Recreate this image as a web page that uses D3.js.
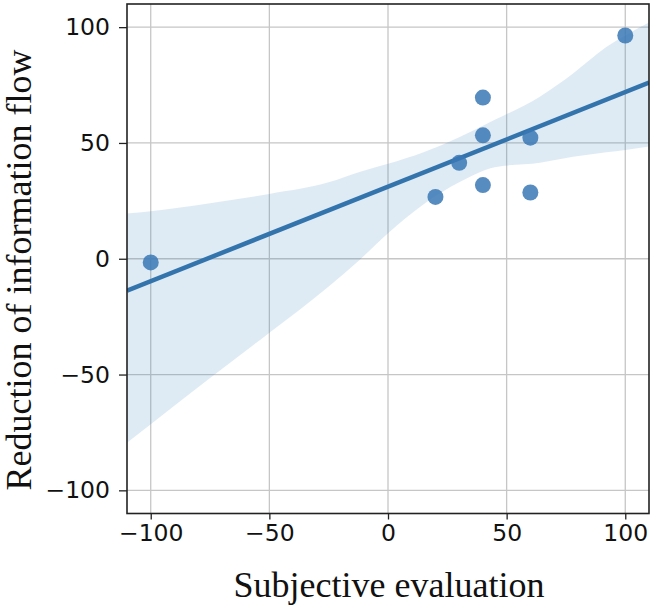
<!DOCTYPE html>
<html>
<head>
<meta charset="utf-8">
<script src="https://cdn.jsdelivr.net/npm/d3@7"></script>
<style>
  html, body { margin: 0; padding: 0; background: #fff; }
  svg { display: block; }
</style>
</head>
<body>
<svg id="chart" width="653" height="616"></svg>
<script>
// ---- data ----
const pointX = [-100, 20, 30, 40, 40, 40, 60, 60, 100];
const pointY = [-1.6, 26.7, 41.4, 69.6, 53.3, 31.8, 52.3, 28.6, 96.4];

// confidence band edges
const bandX     = [-110, -100, -75, -50, -25, -12, 0, 15, 30, 45, 64, 78, 92, 100, 110];
const bandUpper = [19.5, 20.5, 24, 28, 33, 37.5, 41, 46, 52.5, 60, 70, 80, 91.4, 96.4, 102];
const bandLower = [-79.5, -71.5, -51.5, -32, -12, -0.5, 11, 23.5, 33, 39.5, 41.5, 44, 46, 47, 48.5];

const tickValues = [-100, -50, 0, 50, 100];
const xDomain = [-110, 110];
const yDomain = [-110, 110];
const xTitle = "Subjective evaluation";
const yTitle = "Reduction of information flow";

// ---- layout ----
const svg = d3.select("#chart");
const L = 127, R = 649, T = 4, B = 513.5;

const x = d3.scaleLinear().domain(xDomain).range([L, R]);
const y = d3.scaleLinear().domain(yDomain).range([B, T]);

// grid
const grid = svg.append("g");
grid.selectAll("line.gx").data(tickValues).join("line")
  .attr("x1", d => x(d)).attr("x2", d => x(d))
  .attr("y1", T).attr("y2", B)
  .attr("stroke", "#c6c6c6").attr("stroke-width", 1.3);
grid.selectAll("line.gy").data(tickValues).join("line")
  .attr("y1", d => y(d)).attr("y2", d => y(d))
  .attr("x1", L).attr("x2", R)
  .attr("stroke", "#c6c6c6").attr("stroke-width", 1.3);

// clip
svg.append("clipPath").attr("id", "clip")
  .append("rect").attr("x", L).attr("y", T).attr("width", R - L).attr("height", B - T);

const plot = svg.append("g").attr("clip-path", "url(#clip)");

// band
const bandData = bandX.map((bx, i) => ({ x: bx, lo: bandLower[i], hi: bandUpper[i] }));
plot.append("path")
  .datum(bandData)
  .attr("d", d3.area().curve(d3.curveMonotoneX)
    .x(d => x(d.x)).y0(d => y(d.lo)).y1(d => y(d.hi)))
  .attr("fill", "#1f77b4").attr("fill-opacity", 0.15);

// OLS fit from the points
const n = pointX.length;
const mx = d3.mean(pointX), my = d3.mean(pointY);
let sxy = 0, sxx = 0;
for (let i = 0; i < n; i++) { sxy += (pointX[i] - mx) * (pointY[i] - my); sxx += (pointX[i] - mx) ** 2; }
const slope = sxy / sxx, intercept = my - slope * mx;
const fitX = xDomain;
plot.append("path")
  .datum(fitX.map(v => [v, intercept + slope * v]))
  .attr("d", d3.line().x(d => x(d[0])).y(d => y(d[1])))
  .attr("fill", "none").attr("stroke", "#3474ad").attr("stroke-width", 4.5);

// points
plot.selectAll("circle").data(pointX.map((v, i) => [v, pointY[i]])).join("circle")
  .attr("cx", d => x(d[0])).attr("cy", d => y(d[1])).attr("r", 8)
  .attr("fill", "#3a78b5").attr("fill-opacity", 0.85);

// axes
const fmt = d => d < 0 ? "\u2212" + Math.abs(d) : d;
const xAxis = svg.append("g").attr("transform", `translate(0,${B})`)
  .call(d3.axisBottom(x).tickValues(tickValues).tickSize(6).tickPadding(5).tickFormat(fmt));
const yAxis = svg.append("g").attr("transform", `translate(${L},0)`)
  .call(d3.axisLeft(y).tickValues(tickValues).tickSize(8).tickPadding(9).tickFormat(fmt));
[xAxis, yAxis].forEach(a => {
  a.attr("font-size", null).attr("font-family", null);
  a.select(".domain").remove();
  a.selectAll(".tick line").attr("stroke", "#222").attr("stroke-width", 1.3);
  a.selectAll(".tick text").attr("fill", "#111")
    .style("font-family", "'DejaVu Sans', sans-serif").style("font-size", "23.5px");
});

// frame
svg.append("rect").attr("x", L).attr("y", T).attr("width", R - L).attr("height", B - T)
  .attr("fill", "none").attr("stroke", "#222").attr("stroke-width", 1.6);

// titles
svg.append("text").attr("x", 389).attr("y", 597).attr("text-anchor", "middle")
  .style("font-family", "'Liberation Serif', 'Times New Roman', serif").style("font-size", "36px")
  .attr("fill", "#111").text(xTitle);
svg.append("text").attr("transform", "translate(31,270) rotate(-90)").attr("text-anchor", "middle")
  .style("font-family", "'Liberation Serif', 'Times New Roman', serif").style("font-size", "36px")
  .attr("fill", "#111").text(yTitle);
</script>
</body>
</html>
